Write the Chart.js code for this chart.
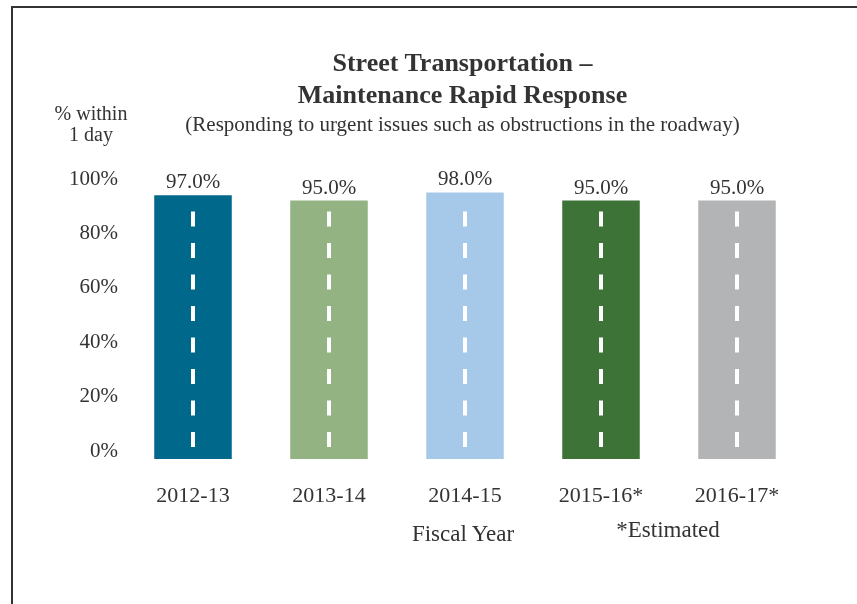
<!DOCTYPE html>
<html>
<head>
<meta charset="utf-8">
<script src="https://cdn.jsdelivr.net/npm/chart.js@4.4.0/dist/chart.umd.min.js"></script>
<style>
  body { margin: 0; background: #fff; font-family: "Liberation Serif", serif; color: #333; }
  #wrap { position: relative; width: 857px; height: 604px; overflow: hidden; }
  #frame { position: absolute; left: 11px; top: 6px; width: 900px; height: 700px;
           border-left: 2px solid #333; border-top: 2px solid #333; }
  canvas { position: absolute; left: 0; top: 0; }
  .txt { position: absolute; white-space: nowrap; color: #333; }
  #title { left: 0; width: 925px; top: 47px; text-align: center; font-weight: bold; font-size: 26px; line-height: 32px; }
  #sub { left: 0; width: 925px; top: 112px; text-align: center; font-size: 21px; }
  #ytitle { left: 41px; width: 100px; top: 103px; text-align: center; font-size: 20px; line-height: 21px; }
  #xtitle { left: 463px; top: 521px; transform: translateX(-50%); font-size: 23px; }
  #note { left: 668px; top: 517px; transform: translateX(-50%); font-size: 23px; }
</style>
</head>
<body>
<div id="wrap">
  <div id="frame"></div>
  <canvas id="chart" width="857" height="604"></canvas>
  <div class="txt" id="title">Street Transportation –<br>Maintenance Rapid Response</div>
  <div class="txt" id="sub">(Responding to urgent issues such as obstructions in the roadway)</div>
  <div class="txt" id="ytitle">% within<br>1 day</div>
  <div class="txt" id="xtitle">Fiscal Year</div>
  <div class="txt" id="note">*Estimated</div>
</div>
<script>
const years = ["2012-13", "2013-14", "2014-15", "2015-16*", "2016-17*"];
const pctWithinOneDay = [97.0, 95.0, 98.0, 95.0, 95.0];
const barColors = ["#00688a", "#93b383", "#a7c9e9", "#3d7337", "#b3b4b6"];
const yTicks = [0, 20, 40, 60, 80, 100];

// white road marking down the middle of every bar, plus the value on top
const roadPlugin = {
  id: "road",
  afterDatasetsDraw(chart) {
    const ctx = chart.ctx;
    const meta = chart.getDatasetMeta(0);
    ctx.save();
    meta.data.forEach((bar, i) => {
      ctx.fillStyle = "#ffffff";
      let y = bar.base - 12;
      while (y > bar.y + 4) {
        const top = Math.max(y - 15, bar.y);
        ctx.fillRect(Math.round(bar.x) - 2, top, 4, y - top);
        y -= 31.5;
      }
      ctx.fillStyle = "#333";
      ctx.font = "21px 'Liberation Serif'";
      ctx.textAlign = "center";
      ctx.textBaseline = "bottom";
      ctx.fillText(pctWithinOneDay[i].toFixed(1) + "%", bar.x, bar.y - 2);
    });
    ctx.restore();
  }
};

const ctx = document.getElementById("chart").getContext("2d");
new Chart(ctx, {
  type: "bar",
  data: {
    labels: years,
    datasets: [{
      data: pctWithinOneDay,
      backgroundColor: barColors,
      borderWidth: 0,
      categoryPercentage: 1,
      barPercentage: 0.57
    }]
  },
  options: {
    responsive: false,
    animation: false,
    layout: { padding: { left: 0, right: 52, top: 187, bottom: 45 } },
    plugins: { legend: { display: false }, tooltip: { enabled: false } },
    scales: {
      x: {
        grid: { display: false, drawTicks: false },
        border: { display: false },
        ticks: { color: "#333", font: { family: "Liberation Serif", size: 22 }, padding: 24, maxRotation: 0 },
        afterFit: (s) => { s.height = 100; }
      },
      y: {
        min: 0,
        max: 100,
        afterBuildTicks: (s) => { s.ticks = yTicks.map(v => ({ value: v })); },
        grid: { display: false, drawTicks: false },
        border: { display: false },
        ticks: { color: "#333", font: { family: "Liberation Serif", size: 21 }, padding: 7, labelOffset: -8,
                 callback: (v) => v + "%" },
        afterFit: (s) => { s.width = 125; }
      }
    }
  },
  plugins: [roadPlugin]
});
</script>
</body>
</html>
